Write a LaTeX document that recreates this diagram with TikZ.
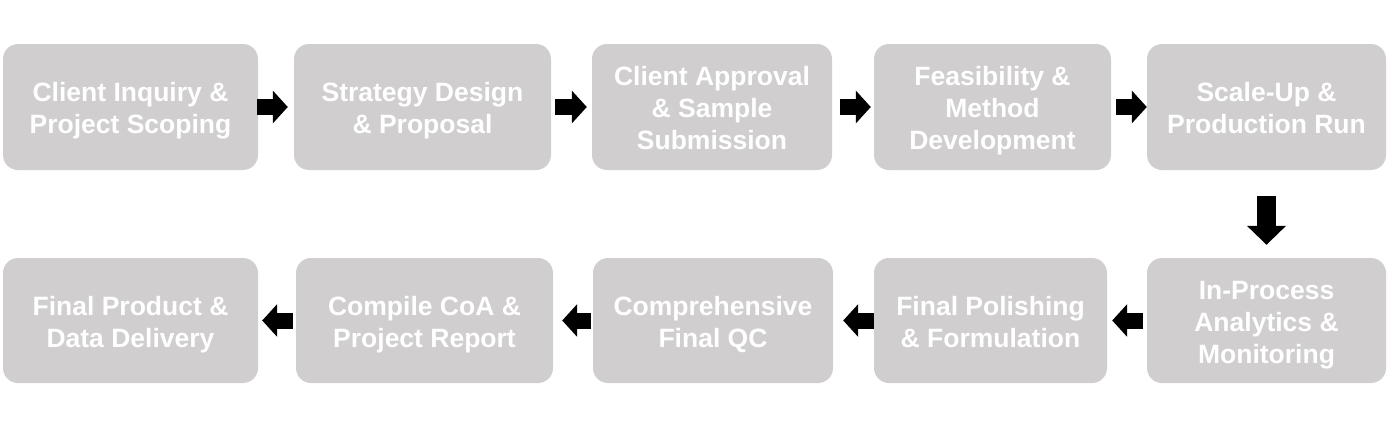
\documentclass[tikz,border=0pt]{standalone}
\usepackage{fontspec}
\setmainfont{Liberation Sans}
\usetikzlibrary{arrows.meta,positioning}
\definecolor{wfBox}{HTML}{D0CECE}
\definecolor{wfText}{HTML}{FFFFFF}
\newcommand{\wfstrut}{\rule{0pt}{27pt}}
\newcommand{\wfend}{\rule[-6pt]{0pt}{6pt}}
\tikzset{
  wfnode/.style={
    fill=wfBox, rounded corners=15pt, minimum height=126pt, inner sep=0pt,
    text=wfText, font=\fontsize{26.5}{32}\selectfont\bfseries, align=center
  },
  wfarrow/.style={line width=16pt, black,
    -{Triangle[length=15pt,width=32pt]}},
  wfdown/.style={line width=19pt, black,
    -{Triangle[length=19pt,width=38pt]}}
}
\begin{document}
\begin{tikzpicture}[x=1pt,y=-1pt]
  \useasboundingbox (0,0) rectangle (1394,424);
  % top row
  \node[wfnode, minimum width=255pt] (inq) at (130.5,107) {\wfstrut Client Inquiry \&\\Project Scoping\wfend};
  \node[wfnode, minimum width=257pt] (strat) at (422.5,107) {\wfstrut Strategy Design\\\& Proposal\wfend};
  \node[wfnode, minimum width=240pt] (appr) at (712,107) {\wfstrut Client Approval\\\& Sample\\Submission\wfend};
  \node[wfnode, minimum width=237pt] (feas) at (992.5,107) {\wfstrut Feasibility \&\\Method\\Development\wfend};
  \node[wfnode, minimum width=239pt] (scale) at (1266.5,107) {\wfstrut Scale-Up \&\\Production Run\wfend};
  % bottom row
  \node[wfnode, minimum width=239pt, minimum height=125pt] (ipc) at (1266.5,320.5) {\wfstrut In-Process\\Analytics \&\\Monitoring\wfend};
  \node[wfnode, minimum width=233pt, minimum height=125pt] (polish) at (990.5,320.5) {\wfstrut Final Polishing\\\& Formulation\wfend};
  \node[wfnode, minimum width=240pt, minimum height=125pt] (fqc) at (713,320.5) {\wfstrut Comprehensive\\Final QC\wfend};
  \node[wfnode, minimum width=257pt, minimum height=125pt] (coa) at (424.5,320.5) {\wfstrut Compile CoA \&\\Project Report\wfend};
  \node[wfnode, minimum width=255pt, minimum height=125pt] (deliv) at (130.5,320.5) {\wfstrut Final Product \&\\Data Delivery\wfend};
  \foreach \a/\b/\s/\e in {inq/strat/-1/6,strat/appr/4/5,appr/feas/8/3,feas/scale/5/0}
    {\draw[wfarrow, shorten <=\s pt, shorten >=\e pt] (\a.east)--(\b.west);}
  \foreach \a/\b/\s/\e in {ipc/polish/4/5,polish/fqc/0/10,fqc/coa/2/9,coa/deliv/3/4}
    {\draw[wfarrow, shorten <=\s pt, shorten >=\e pt] (\a.west)--(\b.east);}
  \draw[wfdown, shorten <=26pt, shorten >=13pt] (scale.south)--(ipc.north);
\end{tikzpicture}
\end{document}
